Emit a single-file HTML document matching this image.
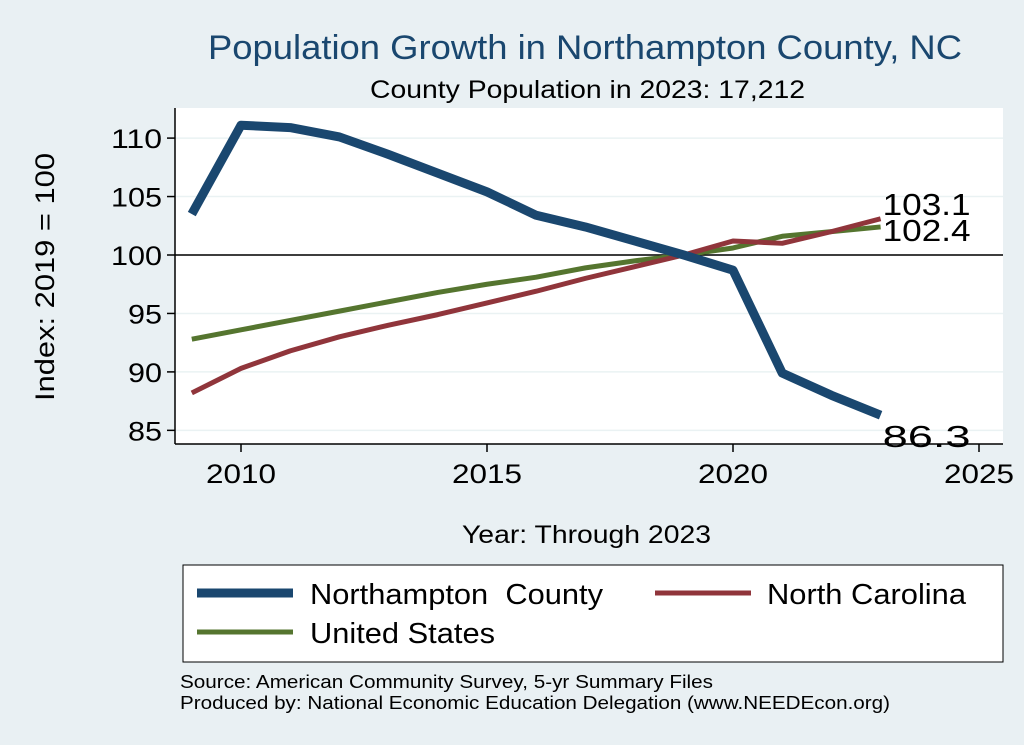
<!DOCTYPE html>
<html><head><meta charset="utf-8"><style>
body{margin:0;background:#e9f0f3;}
svg{display:block;font-family:"Liberation Sans",Arial,sans-serif;}
</style></head><body>
<svg id="chart" width="1024" height="745">
<rect x="0" y="0" width="1024" height="745" fill="#e9f0f3"/>
<text x="208" y="59" font-size="34" fill="#1a476f" textLength="754" lengthAdjust="spacingAndGlyphs">Population Growth in Northampton County, NC</text>
<text x="370" y="98" font-size="25" fill="#000" textLength="435" lengthAdjust="spacingAndGlyphs">County Population in 2023: 17,212</text>
<rect x="175" y="108" width="828" height="336" fill="#fff"/>
<g id="grid"></g>
<line x1="175" y1="108" x2="175" y2="444" stroke="#000" stroke-width="1.5"/>
<line x1="175" y1="444" x2="1003" y2="444" stroke="#000" stroke-width="1.5"/>
<g id="axes"></g>
<g id="series"></g>
<text x="54" y="277" font-size="27" text-anchor="middle" textLength="248" lengthAdjust="spacingAndGlyphs" transform="rotate(-90 54 277)">Index: 2019 = 100</text>
<text x="462" y="543" font-size="25" textLength="249" lengthAdjust="spacingAndGlyphs">Year: Through 2023</text>
<g>
<rect x="183" y="565" width="820" height="97" fill="#fff" stroke="#000" stroke-width="1"/>
<line x1="197" y1="593" x2="293" y2="593" stroke="#1a476f" stroke-width="9"/>
<text x="310" y="604" font-size="29" textLength="293" lengthAdjust="spacingAndGlyphs" xml:space="preserve">Northampton  County</text>
<line x1="655" y1="593" x2="751" y2="593" stroke="#90353b" stroke-width="5"/>
<text x="767" y="604" font-size="29" textLength="199" lengthAdjust="spacingAndGlyphs">North Carolina</text>
<line x1="197" y1="632" x2="293" y2="632" stroke="#55752f" stroke-width="5"/>
<text x="310" y="643" font-size="29" textLength="185" lengthAdjust="spacingAndGlyphs">United States</text>
</g>
<text x="180" y="688" font-size="18" textLength="533" lengthAdjust="spacingAndGlyphs">Source: American Community Survey, 5-yr Summary Files</text>
<text x="180" y="709" font-size="18" textLength="710" lengthAdjust="spacingAndGlyphs">Produced by: National Economic Education Delegation (www.NEEDEcon.org)</text>
</svg>
<script>
const years=[2009,2010,2011,2012,2013,2014,2015,2016,2017,2018,2019,2020,2021,2022,2023];
const northampton=[103.5,111.1,110.9,110.1,108.6,107.0,105.4,103.4,102.4,101.2,100,98.7,89.9,88.0,86.3];
const northCarolina=[88.2,90.3,91.8,93.0,94.0,94.9,95.9,96.9,98.0,99.0,100,101.2,101.0,102.0,103.1];
const unitedStates=[92.8,93.6,94.4,95.2,96.0,96.8,97.5,98.1,98.9,99.5,100,100.6,101.6,102.0,102.4];
const xTicks=[2010,2015,2020,2025];
const yTicks=[85,90,95,100,105,110];
const NS="http://www.w3.org/2000/svg";
function X(v){return 241+(v-2010)*49.2;}
function Y(v){return 255-(v-100)*11.69;}
function mk(tag,attrs,parent){const e=document.createElementNS(NS,tag);for(const k in attrs)e.setAttribute(k,attrs[k]);document.getElementById(parent).appendChild(e);return e;}
yTicks.forEach(t=>{
  const g=mk('line',{x1:175,x2:1003,y1:Y(t),y2:Y(t),stroke:'#eaf2f3','stroke-width':1.5},'grid');
  
  
  const tk=mk('line',{x1:167,x2:175,y1:Y(t),y2:Y(t),stroke:'#000','stroke-width':1.5},'axes');
  
  
  const l=mk('text',{x:162,y:Y(t)+10,'font-size':27,'text-anchor':'end',textLength:String(t).length*17,lengthAdjust:'spacingAndGlyphs'},'axes');
  l.textContent=t;
  
  
});
const ref=mk('line',{x1:175,x2:1003,y1:Y(100),y2:Y(100),stroke:'#000','stroke-width':1.5},'axes');


xTicks.forEach(t=>{
  const tk=mk('line',{x1:X(t),x2:X(t),y1:444,y2:452,stroke:'#000','stroke-width':1.5},'axes');
  
  
  const l=mk('text',{x:X(t),y:483,'font-size':27,'text-anchor':'middle',textLength:70,lengthAdjust:'spacingAndGlyphs'},'axes');
  l.textContent=t;
  
  
});
function line(vals,color,w,name){
  const p=mk('polyline',{points:vals.map((v,i)=>X(years[i])+','+Y(v)).join(' '),fill:'none',stroke:color,'stroke-width':w,'stroke-linejoin':'round'},'series');
  
  
}
line(unitedStates,'#55752f',5,'line-united-states');
line(northCarolina,'#90353b',5,'line-north-carolina');
line(northampton,'#1a476f',9,'line-northampton');
const n=years.length-1;
function lab(v,dy,name){
  const t=mk('text',{x:X(years[n])+2,y:Y(v)+dy,'font-size':31,textLength:88,lengthAdjust:'spacingAndGlyphs'},'series');
  t.textContent=v.toFixed(1);
  
  
}
lab(northCarolina[n],-4,'label-north-carolina-end');
lab(unitedStates[n],14,'label-united-states-end');
lab(northampton[n],32,'label-northampton-end');
</script>
</body></html>
